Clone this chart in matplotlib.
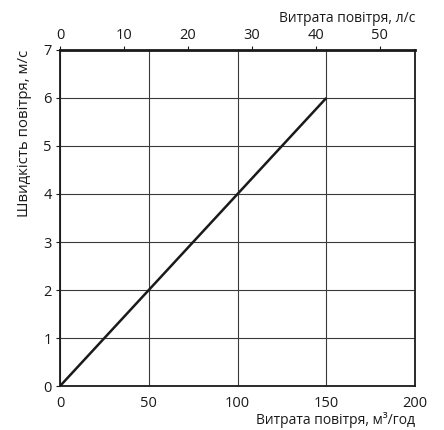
import matplotlib.pyplot as plt
import numpy as np

plt.rcParams['font.family'] = ['Open Sans', 'DejaVu Sans']

# data
flow_m3h = [0, 150]
velocity = [0, 6]
x_ticks = [0, 50, 100, 150, 200]
y_ticks = [0, 1, 2, 3, 4, 5, 6, 7]
top_ticks = [0, 10, 20, 30, 40, 50]

W, H = 444, 430
fig = plt.figure(figsize=(W / 100, H / 100), dpi=100)
ax = fig.add_axes([0.135, 0.102, 0.8, 0.782])

ax.plot(flow_m3h, velocity, color='#1a1a1a', lw=1.8, solid_capstyle='butt')

ax.set_xlim(0, 200)
ax.set_ylim(0, 7)
ax.set_xticks(x_ticks)
ax.set_yticks(y_ticks)
ax.grid(True, color='#3a3a3a', lw=0.8)
ax.set_axisbelow(True)

for s in ax.spines.values():
    s.set_color('#1a1a1a')
    s.set_linewidth(1.3)
ax.spines['top'].set_linewidth(2.0)

ax.tick_params(axis='x', length=0, pad=7, labelsize=10.5, colors='#1a1a1a')
ax.tick_params(axis='y', length=3, width=0.8, pad=3, labelsize=10.5, colors='#1a1a1a')

top = ax.secondary_xaxis('top', functions=(lambda x: x / 3.6, lambda x: x * 3.6))
top.set_xticks(top_ticks)
top.tick_params(length=3, width=0.8, pad=2, labelsize=10.5, colors='#1a1a1a')
top.spines['top'].set_visible(False)

# axis titles placed in figure pixels
fig.text(415 / W, 1 - 420 / H, 'Витрата повітря, м³/год', fontsize=10,
         color='#1a1a1a', ha='right', va='center')
fig.text(415 / W, 1 - 19 / H, 'Витрата повітря, л/с', fontsize=10,
         color='#1a1a1a', ha='right', va='center')
fig.text(24 / W, 1 - 50 / H, 'Швидкість повітря, м/с', fontsize=10.8,
         color='#1a1a1a', ha='center', va='top', rotation=90)

fig.savefig('out.png', dpi=100)
